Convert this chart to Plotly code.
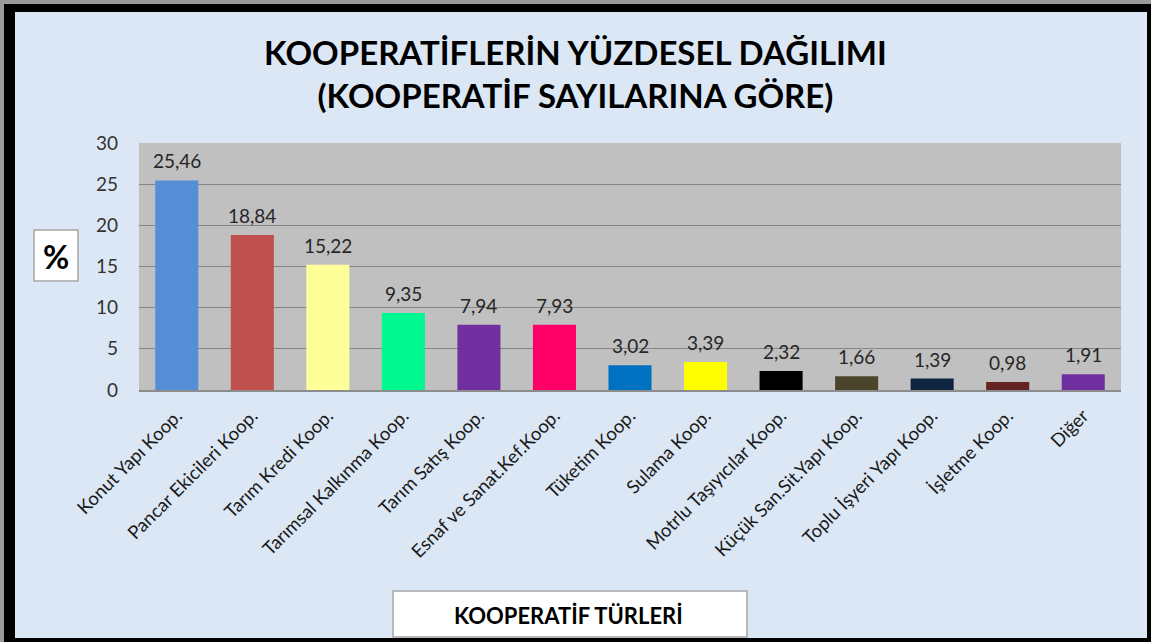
import plotly.graph_objects as go

categories = ["Konut Yapı Koop.", "Pancar Ekicileri Koop.", "Tarım Kredi Koop.",
              "Tarımsal Kalkınma Koop.", "Tarım Satış Koop.", "Esnaf ve Sanat.Kef.Koop.",
              "Tüketim Koop.", "Sulama Koop.", "Motrlu Taşıyıcılar Koop.",
              "Küçük San.Sit.Yapı Koop.", "Toplu İşyeri Yapı Koop.", "İşletme Koop.", "Diğer"]
values = [25.46, 18.84, 15.22, 9.35, 7.94, 7.93, 3.02, 3.39, 2.32, 1.66, 1.39, 0.98, 1.91]
bar_colors = ["#558ed5", "#c0504d", "#ffff99", "#00f890", "#7030a0", "#ff0066",
              "#0070c0", "#ffff00", "#000000", "#4a452a", "#0f243e", "#632523", "#7030a0"]
y_ticks = [0, 5, 10, 15, 20, 25, 30]

W, H = 1151, 642
L, R, T, B = 139, 1121, 143, 390
pw, ph = R - L, B - T


def px(x):
    return (x - L) / pw


def py(y):
    return (B - y) / ph


fig = go.Figure(go.Bar(
    x=categories, y=values, marker=dict(color=bar_colors, line=dict(width=0)),
    hoverinfo="x+y",
))

shapes = [
    # outer frame
    dict(type="rect", xref="paper", yref="paper", x0=px(0), x1=px(W), y0=py(H), y1=py(0),
         fillcolor="#9a9a9a", line=dict(width=0), layer="below"),
    dict(type="rect", xref="paper", yref="paper", x0=px(4), x1=px(1151), y0=py(642), y1=py(4),
         fillcolor="#000000", line=dict(width=0), layer="below"),
    dict(type="rect", xref="paper", yref="paper", x0=px(15), x1=px(1147), y0=py(638), y1=py(12),
         fillcolor="#dbe7f4", line=dict(width=0), layer="below"),
    # plot area background
    dict(type="rect", xref="paper", yref="paper", x0=0, x1=1, y0=0, y1=1,
         fillcolor="#c0c0c0", line=dict(width=0), layer="below"),
    # % box
    dict(type="rect", xref="paper", yref="paper", x0=px(34), x1=px(78), y0=py(281), y1=py(230),
         fillcolor="#ffffff", line=dict(color="#a6a6a6", width=1.5)),
    # x axis title box
    dict(type="rect", xref="paper", yref="paper", x0=px(393), x1=px(747), y0=py(637), y1=py(591),
         fillcolor="#ffffff", line=dict(color="#a6a6a6", width=1.5)),
]

annotations = [
    dict(text="<b>KOOPERATİFLERİN YÜZDESEL DAĞILIMI<br>(KOOPERATİF SAYILARINA GÖRE)</b>",
         xref="paper", yref="paper", x=px(575), y=py(74), xanchor="center", yanchor="middle",
         showarrow=False, font=dict(family="Lato", size=33, color="#000000")),
    dict(text="<b>%</b>", xref="paper", yref="paper", x=px(56), y=py(256),
         xanchor="center", yanchor="middle", showarrow=False,
         font=dict(family="Lato", size=32, color="#000000")),
    dict(text="<b>KOOPERATİF TÜRLERİ</b>", xref="paper", yref="paper", x=px(568), y=py(615),
         xanchor="center", yanchor="middle", showarrow=False,
         font=dict(family="Lato", size=22, color="#000000")),
]
for c, v in zip(categories, values):
    annotations.append(dict(
        x=c, y=v, xref="x", yref="y", text=f"{v:.2f}".replace(".", ","),
        xanchor="center", yanchor="bottom", yshift=6, showarrow=False,
        font=dict(family="Lato", size=19, color="#262626")))

fig.update_layout(
    width=W, height=H,
    margin=dict(l=L, r=W - R, t=T, b=H - B, pad=0),
    paper_bgcolor="#dbe7f4",
    plot_bgcolor="#c0c0c0",
    separators=",.",
    bargap=0.43,
    showlegend=False,
    shapes=shapes,
    annotations=annotations,
    xaxis=dict(tickangle=-45, tickfont=dict(family="Lato", size=18.5, color="#1a1a1a"),
               showgrid=False, showline=True, linecolor="#8c8c8c", linewidth=1.5,
               ticks="", ticklabelstandoff=6, fixedrange=True),
    yaxis=dict(range=[0, 30], tickvals=y_ticks, tickfont=dict(family="Lato", size=19, color="#333333"),
               showgrid=True, gridcolor="#868686", gridwidth=1, zeroline=False,
               ticks="", ticklabelstandoff=20, fixedrange=True),
)

fig.write_html("out.html", config={"displayModeBar": False},
               post_script="document.body.style.margin='0';")
